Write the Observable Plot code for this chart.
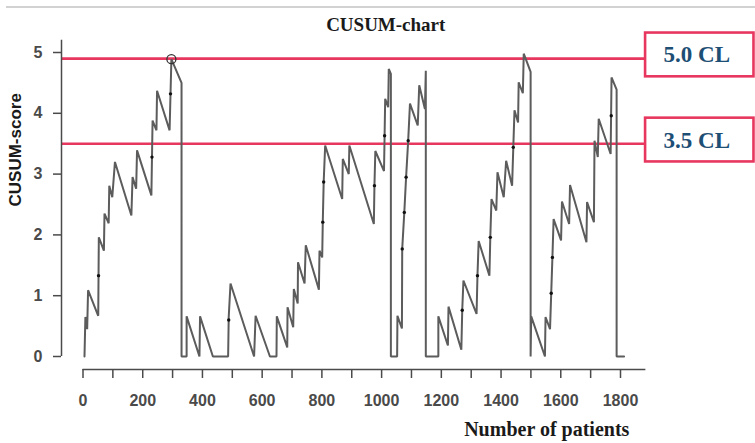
<!DOCTYPE html>
<html><head><meta charset="utf-8">
<script src="https://cdn.jsdelivr.net/npm/d3@7"></script>
<script src="https://cdn.jsdelivr.net/npm/@observablehq/plot@0.6"></script>
<style>
html,body{margin:0;padding:0;background:#fff;}
#wrap{position:relative;width:755px;height:443px;overflow:hidden;}
#topline{position:absolute;left:6px;right:0;top:6px;height:2px;background:#d2d2d2;}
#wrap svg{position:absolute;left:0;top:0;}
</style></head><body><div id="wrap"><div id="topline"></div></div>
<script>
// CUSUM path: patient number and CUSUM score
const patients = [5,8,14,17,51,53,70,72,86,88,98,107,162,166,178,181,229,233,246,248,290,296,330,330,
  347,347,390,392,435,486,488,494,573,578,626,648,649,684,685,704,706,719,720,742,746,790,792,801,803,806,811,
  868,870,890,892,974,976,979,1008,1010,1012,1022,1024,1031,1031,1052,1053,1068,1069,1076,1082,1089,1095,
  1121,1126,1145,1148,1148,1190,1190,1222,1224,1267,1270,1274,1318,1321,1325,1361,1364,1368,1384,1388,1409,1417,
  1437,1441,1445,1457,1459,1473,1476,1499,1499,1501,1547,1549,1564,1568,1572,1576,1601,1604,1628,1631,1686,1688,
  1711,1713,1724,1727,1767,1770,1787,1787,1812];
const scores = [0,0.65,0.45,1.09,0.67,1.96,1.74,2.35,2.19,2.81,2.62,3.2,2.32,2.95,2.76,3.39,2.65,3.88,3.72,4.37,3.72,4.89,4.5,0,
  0,0.66,0,0.66,0,0,0.65,1.2,0,0.67,0,0,0.66,0.15,0.81,0.48,1.11,0.87,1.55,1.2,1.83,1.10,1.74,1.63,2.21,2.87,3.47,
  2.59,3.25,3.0,3.47,2.18,2.81,3.38,3.05,3.63,4.24,4.10,4.73,4.65,0,0,0.67,0.46,1.77,2.37,2.95,3.55,4.16,
  3.80,4.46,4.07,4.70,0,0,0.66,0.18,0.82,0.11,0.76,1.25,0.70,1.33,1.90,1.33,1.96,2.59,2.40,3.03,2.62,3.22,
  2.81,3.44,4.05,3.85,4.51,4.33,4.98,4.68,0,0.66,0,0.65,0.45,1.04,1.63,2.26,1.91,2.55,2.18,2.82,1.88,2.54,
  2.21,3.55,3.28,3.91,3.33,4.59,4.39,0,0];
// small point markers on the path
const markX = [52,231,293,488,803,806,976,1010,1069,1076,1082,1089,1270,1321,1364,1441,1568,1572,1769];
const markY = [1.33,3.28,4.32,0.6,2.21,2.87,2.81,3.63,1.77,2.37,2.95,3.55,0.76,1.33,1.96,3.44,1.04,1.63,3.96];
// signal point (circled)
const signalX = [296];
const signalY = [4.89];
// control limits
const clLevels = [4.9, 3.5];
const clLabels = ["5.0 CL", "3.5 CL"];
// axis ticks
const yTicks = [0,1,2,3,4,5];
const xTicks = [0,100,200,300,400,500,600,700,800,900,1000,1100,1200,1300,1400,1500,1600,1700,1800];
const xLabels = [0,200,400,600,800,1000,1200,1400,1600,1800];
// extents (data units)
const yAxisExtent = [0, 5.2];
const xAxisExtent = [0, 1885];
const clLineExtent = [-69, 1884];
const clBoxExtent = [1884, 2247];

const path = patients.map((p, i) => ({p, s: scores[i]}));
const marks = markX.map((x, i) => ({x, y: markY[i]}));
const signal = signalX.map((x, i) => ({x, y: signalY[i]}));

const red = "#e8375f";
const axisCol = "#4a4a4a";
const serif = "'Liberation Serif', 'DejaVu Serif', serif";

const chart = Plot.plot({
  width: 755, height: 443,
  marginLeft: 82.5, marginRight: 135, marginTop: 52, marginBottom: 87,
  x: {domain: [0, 1800], axis: null},
  y: {domain: [0, 5], axis: null},
  style: {fontFamily: "'Liberation Sans', Arial, sans-serif", background: "transparent", overflow: "visible"},
  marks: [
    Plot.ruleY(clLevels, {y: d => d, x1: clLineExtent[0], x2: clLineExtent[1], stroke: red, strokeWidth: 2.6}),
    Plot.rect(clLevels, {x1: clBoxExtent[0], x2: clBoxExtent[1], y1: d => d + 0.42, y2: d => d - 0.30,
      fill: "white", stroke: red, strokeWidth: 2.6}),
    Plot.text(clLevels, {x: clBoxExtent[0], y: d => d, text: (d, i) => clLabels[i], dx: 18, dy: -3.5,
      textAnchor: "start", lineAnchor: "middle", fontSize: 23, fontWeight: "bold", fontFamily: serif, fill: "#1d4e74"}),
    Plot.line(path, {x: "p", y: "s", stroke: "#5c5c5c", strokeWidth: 2, strokeLinejoin: "miter"}),
    Plot.dot(marks, {x: "x", y: "y", r: 1.7, fill: "#111", stroke: "none"}),
    Plot.dot(signal, {x: "x", y: "y", r: 4.5, stroke: "#333", strokeWidth: 1.3, fill: "none"}),
    // y axis
    Plot.ruleX([0], {x: d => d, y1: yAxisExtent[0], y2: yAxisExtent[1], dx: -21.5, stroke: axisCol, strokeWidth: 1.5}),
    Plot.axisY({ticks: yTicks, tickFormat: d => d, tickSize: 8, tickPadding: 11, dx: -21.5, strokeWidth: 1.5,
      fontSize: 16, fontWeight: "bold", color: axisCol, label: null}),
    // x axis
    Plot.ruleY([0], {y: d => d, x1: xAxisExtent[0], x2: xAxisExtent[1], dy: 13, stroke: axisCol, strokeWidth: 1.5}),
    Plot.axisX({ticks: xTicks, tickFormat: d => xLabels.includes(d) ? String(d) : "", tickSize: 9, tickPadding: 16,
      dy: 13, strokeWidth: 1.5, fontSize: 16, fontWeight: "bold", color: axisCol, label: null}),
    // titles
    Plot.text(["CUSUM-chart"], {text: d => d, frameAnchor: "top", dx: 34, dy: -22, lineAnchor: "bottom",
      fontSize: 19, fontWeight: "bold", fontFamily: serif, fill: "#1a1a1a"}),
    Plot.text(["Number of patients"], {text: d => d, frameAnchor: "bottom", dx: 195, dy: 79, lineAnchor: "bottom",
      fontSize: 20, fontWeight: "bold", fontFamily: serif, fill: "#1a1a1a"}),
    Plot.text(["CUSUM-score"], {text: d => d, frameAnchor: "left", dx: -67, dy: 2, rotate: -90, lineAnchor: "middle",
      fontSize: 17, fontWeight: "bold", fill: "#1a1a1a"})
  ]
});
document.getElementById("wrap").appendChild(chart);
</script>
</body></html>
